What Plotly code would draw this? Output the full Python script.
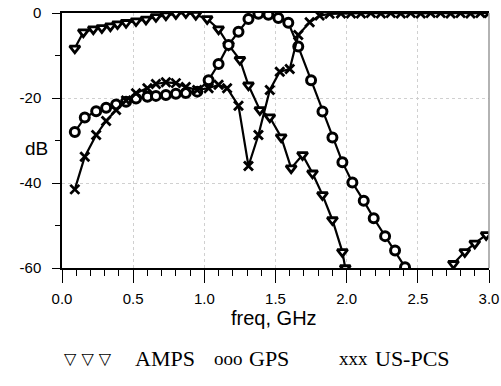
import plotly.graph_objects as go

# ---- data ----
amps_f = [0.09, 0.15, 0.22, 0.28, 0.34, 0.39, 0.45, 0.52, 0.59, 0.66, 0.73, 0.80, 0.87, 0.94, 1.02,
          1.10, 1.17, 1.25, 1.31, 1.39, 1.46, 1.54, 1.61, 1.69, 1.76, 1.83, 1.90, 1.97, 1.99,
          None, 2.75, 2.83, 2.90, 2.98]
amps_db = [-8.3, -4.5, -3.8, -3.5, -3.1, -2.6, -2.3, -1.9, -1.5, -0.9, -0.5, -0.2, 0.0, -0.4, -1.4,
           -3.8, -7.5, -11.0, -17.0, -22.8, -24.5, -29.2, -36.5, -33.4, -37.7, -42.8, -48.7, -56.2, -60.0,
           None, -59.0, -56.2, -54.2, -52.2]

gps_f = [0.09, 0.16, 0.24, 0.31, 0.38, 0.45, 0.52, 0.60, 0.66, 0.73, 0.80, 0.87, 0.95, 1.03,
         1.10, 1.17, 1.24, 1.31, 1.38, 1.45, 1.52, 1.59, 1.66, 1.75, 1.83, 1.90, 1.97, 2.04,
         2.12, 2.19, 2.27, 2.34, 2.41]
gps_db = [-28.0, -24.6, -23.1, -22.3, -21.5, -20.9, -20.1, -19.7, -19.5, -19.3, -19.0, -18.8, -18.5, -15.8,
          -12.0, -7.5, -4.4, -1.4, -0.2, -0.4, -1.2, -2.3, -7.9, -15.8, -23.2, -29.3, -35.1, -39.9,
          -44.2, -48.3, -52.5, -55.9, -59.8]

pcs_f = [0.09, 0.16, 0.24, 0.31, 0.38, 0.45, 0.52, 0.60, 0.66, 0.73, 0.80, 0.87, 0.95, 1.03,
         1.10, 1.16, 1.24, 1.31, 1.38, 1.46, 1.53, 1.60, 1.66, 1.74, 1.81, 1.88, 1.96, 2.03,
         2.10, 2.17, 2.24, 2.31, 2.38, 2.45, 2.52, 2.59, 2.66, 2.73, 2.80, 2.87, 2.94, 3.00]
pcs_db = [-41.5, -33.8, -28.7, -25.4, -22.8, -20.6, -18.9, -17.7, -16.7, -16.3, -16.5, -17.4, -18.1, -17.7,
          -16.9, -17.7, -21.8, -36.0, -28.7, -18.1, -13.8, -13.2, -5.2, -2.2, -0.6, -0.2, -0.1, -0.1,
          -0.1, 0.0, -0.1, 0.0, -0.1, 0.0, -0.1, 0.0, 0.0, -0.1, 0.0, -0.1, 0.0, 0.0]

x_ticks = [0.0, 0.5, 1.0, 1.5, 2.0, 2.5, 3.0]
y_ticks = [0, -20, -40, -60]

# ---- layout geometry (pixels) ----
W, H = 501, 386
L, R, T, B = 62, 12, 13, 118
PW, PH = W - L - R, H - T - B

def px(x):
    return (x - L) / PW

def py(y):
    return (H - B - y) / PH

fig = go.Figure()

line = dict(color="black", width=2.2)
fig.add_trace(go.Scatter(x=amps_f, y=amps_db, mode="lines+markers", line=line, connectgaps=False,
                         marker=dict(symbol="triangle-down", size=9, color="white",
                                     line=dict(color="black", width=2.8))))
fig.add_trace(go.Scatter(x=gps_f, y=gps_db, mode="lines+markers", line=line,
                         marker=dict(symbol="circle", size=9, color="white",
                                     line=dict(color="black", width=3))))
fig.add_trace(go.Scatter(x=pcs_f, y=pcs_db, mode="lines+markers", line=line,
                         marker=dict(symbol="x-thin", size=9, color="black",
                                     line=dict(color="black", width=2.8))))

tickfont = dict(family="Liberation Sans, Arial", size=15, color="black")

fig.update_xaxes(range=[0, 3.0], tickvals=x_ticks, ticktext=[f"{v:.1f}" for v in x_ticks],
                 automargin=False,
                 showline=True, linecolor="black", linewidth=1.5, mirror=True,
                 ticks="outside", ticklen=13, tickwidth=1.2, tickcolor="black",
                 minor=dict(dtick=0.1, ticks="outside", ticklen=6, tickcolor="black", tickwidth=1, showgrid=False),
                 showgrid=True, gridcolor="#d0d0d0", griddash="dot", gridwidth=1,
                 zeroline=False, tickfont=tickfont, ticklabelstandoff=3)
fig.update_yaxes(range=[-60, 0], tickvals=y_ticks, ticktext=[str(v) for v in y_ticks],
                 automargin=False,
                 showline=True, linecolor="black", linewidth=1.5, mirror=False,
                 ticks="outside", ticklen=8, tickwidth=1.2, tickcolor="black",
                 minor=dict(dtick=10, ticks="outside", ticklen=5, tickcolor="black", tickwidth=1, showgrid=False),
                 showgrid=True, gridcolor="#d0d0d0", griddash="dot", gridwidth=1,
                 zeroline=False, tickfont=tickfont, ticklabelstandoff=8)

# right border (grey)
fig.add_shape(type="line", xref="paper", yref="paper", x0=1, x1=1, y0=0, y1=1,
              line=dict(color="#9a9a9a", width=1.5))

annots = []
sans = dict(family="Liberation Sans, Arial", size=19, color="black")
annots.append(dict(text="dB", x=px(36), y=py(148), xanchor="center", yanchor="middle", font=sans))
annots.append(dict(text="freq, GHz", x=px(274), y=py(318), xanchor="center", yanchor="middle",
                   font=dict(family="Liberation Sans, Arial", size=20, color="black")))
serif = dict(family="Liberation Serif, Times New Roman", size=22, color="black")
serif_s = dict(family="Liberation Serif, Times New Roman", size=19, color="black")
sym = dict(family="DejaVu Sans", size=16, color="black")
leg_y = py(358)
annots.append(dict(text="▽ ▽ ▽", x=px(62), y=leg_y, xanchor="left", yanchor="middle", font=sym))
annots.append(dict(text="AMPS", x=px(133), y=leg_y, xanchor="left", yanchor="middle", font=serif))
annots.append(dict(text="ooo", x=px(212), y=leg_y, xanchor="left", yanchor="middle", font=serif_s))
annots.append(dict(text="GPS", x=px(247), y=leg_y, xanchor="left", yanchor="middle", font=serif))
annots.append(dict(text="xxx", x=px(337), y=leg_y, xanchor="left", yanchor="middle", font=serif_s))
annots.append(dict(text="US-PCS", x=px(373), y=leg_y, xanchor="left", yanchor="middle", font=serif))
for a in annots:
    a.update(xref="paper", yref="paper", showarrow=False)

fig.update_layout(width=W, height=H, margin=dict(l=L, r=R, t=T, b=B, pad=0, autoexpand=False),
                  paper_bgcolor="white", plot_bgcolor="white", showlegend=False,
                  annotations=annots)

fig.write_html("out.html")
